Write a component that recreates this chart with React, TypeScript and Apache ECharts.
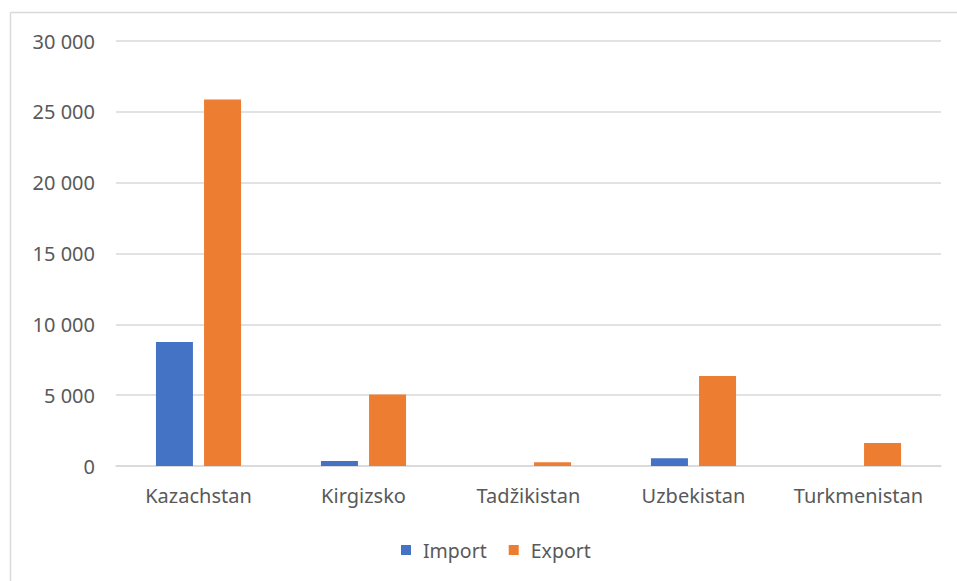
import React, { useEffect, useRef } from "react";
import * as echarts from "echarts";

const categories = ["Kazachstan", "Kirgizsko", "Tadžikistan", "Uzbekistan", "Turkmenistan"];
const importValues = [8750, 350, 0, 540, 0];
const exportValues = [25870, 5050, 260, 6350, 1620];
const seriesNames = ["Import", "Export"];

const FONT = "'Noto Sans', sans-serif";

export default function App() {
  const ref = useRef<HTMLDivElement>(null);
  useEffect(() => {
    if (!ref.current) return;
    const chart = echarts.init(ref.current, null, { renderer: "svg" });
    chart.setOption({
      animation: false,
      textStyle: { fontFamily: FONT },
      graphic: [
        { type: "line", shape: { x1: 10.5, y1: 12.5, x2: 957, y2: 12.5 }, style: { stroke: "#d9d9d9", lineWidth: 1.5 } },
        { type: "line", shape: { x1: 10.5, y1: 12.5, x2: 10.5, y2: 581 }, style: { stroke: "#d9d9d9", lineWidth: 1.5 } },
      ],
      grid: { left: 116, right: 16, top: 41, bottom: 115, containLabel: false },
      legend: {
        data: seriesNames,
        top: 535,
        left: 396,
        itemWidth: 10,
        itemHeight: 10,
        itemGap: 22,
        icon: "rect",
        textStyle: { color: "#595959", fontSize: 19.5, fontFamily: FONT, padding: [0, 0, 0, 7] },
      },
      xAxis: {
        type: "category",
        data: categories,
        axisLine: { lineStyle: { color: "#d9d9d9", width: 1.5 } },
        axisTick: { show: false },
        axisLabel: { color: "#595959", fontSize: 20, margin: 19, fontFamily: FONT, interval: 0, hideOverlap: false },
      },
      yAxis: {
        type: "value",
        min: 0,
        max: 30000,
        interval: 5000,
        axisLine: { show: false },
        axisTick: { show: false },
        splitLine: { lineStyle: { color: "#d9d9d9", width: 1.5 } },
        axisLabel: {
          color: "#595959",
          fontSize: 20,
          margin: 21,
          fontFamily: FONT,
          formatter: (v: number) => (v >= 1000 ? Math.floor(v / 1000) + " " + String(v % 1000).padStart(3, "0") : String(v)),
        },
      },
      series: [
        {
          name: seriesNames[0],
          type: "bar",
          data: importValues,
          barWidth: 37,
          barGap: "30%",
          itemStyle: { color: "#4472c4" },
        },
        {
          name: seriesNames[1],
          type: "bar",
          data: exportValues,
          barWidth: 37,
          itemStyle: { color: "#ed7d31" },
        },
      ],
    });
    return () => chart.dispose();
  }, []);
  return (
    <div style={{ position: "absolute", left: 0, top: 0, width: 957, height: 581, background: "#fff" }}>
      <div ref={ref} style={{ width: 957, height: 581 }} />
    </div>
  );
}
